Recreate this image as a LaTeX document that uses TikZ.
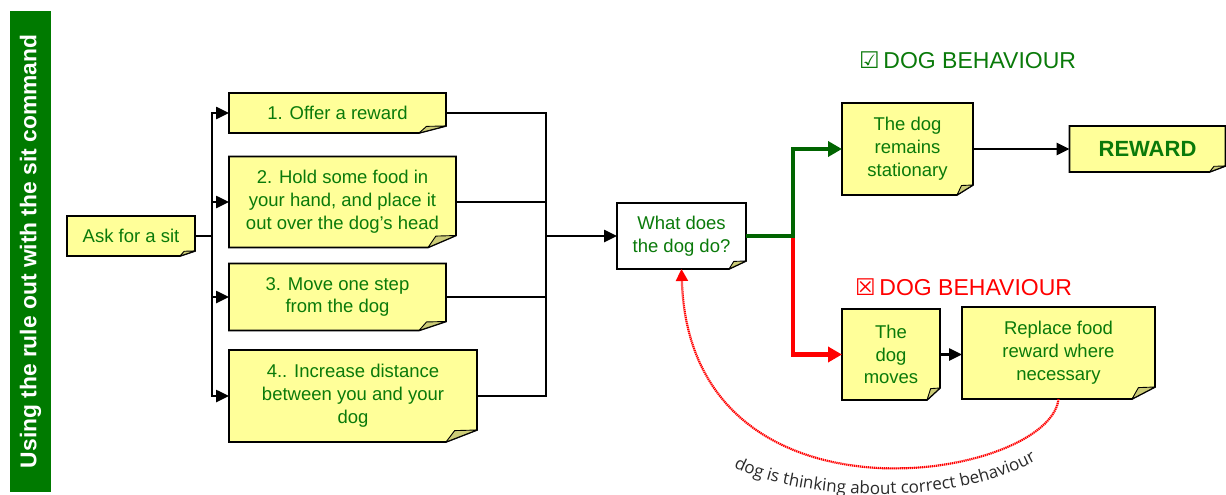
\documentclass[tikz,border=0pt]{standalone}
\usepackage{fontspec}
\setmainfont{Liberation Sans}
\newfontfamily\symfont{DejaVu Sans}
\newfontfamily\notefont{Open Sans}
\usetikzlibrary{arrows.meta,backgrounds,decorations.text}

\definecolor{notefill}{HTML}{FFFF99}
\definecolor{flapfill}{HTML}{CCCC77}
\definecolor{txtgreen}{HTML}{0A7A0A}
\definecolor{bargreen}{HTML}{007A00}
\definecolor{yesgreen}{HTML}{006400}
\definecolor{nored}{HTML}{FF0000}
\definecolor{thinkgray}{HTML}{2A2A2A}

% sticky-note outline with a folded bottom-right corner
% #1 node, #2 fold width, #3 fold height, #4 fill colour
\newcommand\notecard[4]{%
  \begin{scope}[on background layer]
    \filldraw[line width=1.6pt, fill=#4, line join=miter]
      (#1.north west) -- (#1.north east) -- ([yshift=#3pt]#1.south east)
      -- ([xshift=-#2pt]#1.south east) -- (#1.south west) -- cycle;
  \end{scope}
  \filldraw[line width=0.9pt, fill=flapfill, line join=round]
    ([xshift=-#2pt]#1.south east) -- ([xshift={-0.72*#2pt}, yshift={0.95*#3pt}]#1.south east)
    -- ([yshift=#3pt]#1.south east) -- cycle;
}

\tikzset{
  note/.style={text=txtgreen, align=center, inner sep=0pt, outer sep=0pt,
    font=\fontsize{18.5}{22.8}\selectfont},
  blackarrow/.style={line width=2.5pt, -{Triangle[length=13pt,width=12pt]}},
  plainline/.style={line width=2.5pt, line join=miter},
  yesarrow/.style={draw=yesgreen, line width=4.5pt, -{Triangle[length=14pt,width=15pt]}},
  noarrow/.style={draw=nored, line width=4.5pt, -{Triangle[length=14pt,width=15pt]}},
  header/.style={font=\fontsize{23}{23}\selectfont, inner sep=0pt},
}

\begin{document}
\begin{tikzpicture}[x=1pt, y=-1pt]
\useasboundingbox (0,0) rectangle (1226,495);

% side banner
\node[fill=bargreen, rotate=90, minimum width=481pt, minimum height=41pt,
      inner sep=0pt, text=white, font=\bfseries\fontsize{22.8}{22.8}\selectfont]
  (banner) at (30.5,251.5) {Using the rule out with the sit command};

% notes
\node[note, minimum width=128pt, minimum height=40pt] (ask) at (131,236) {Ask for a sit};
\node[note, minimum width=217pt, minimum height=40pt] (o1) at (337.5,113) {1. Offer a reward};
\node[note, minimum width=227pt, minimum height=91pt] (o2) at (342.5,202)
  {2. Hold some food in\\your hand, and place it\\out over the dog’s head};
\node[note, minimum width=217pt, minimum height=67pt] (o3) at (337.5,297)
  {3. Move one step\\from the dog};
\node[note, minimum width=248pt, minimum height=92pt] (o4) at (353,396)
  {4.. Increase distance\\between you and your\\dog};
\node[note, minimum width=129pt, minimum height=66pt] (what) at (681.5,236)
  {What does\\the dog do?};
\node[note, minimum width=131pt, minimum height=92pt] (stay) at (907.5,149)
  {The dog\\remains\\stationary};
\node[note, minimum width=156pt, minimum height=46pt,
      font=\bfseries\fontsize{22}{22}\selectfont] (reward) at (1147.5,149) {REWARD};
\node[note, minimum width=98pt, minimum height=91pt] (moves) at (891,354.5)
  {The\\dog\\moves};
\node[note, minimum width=193pt, minimum height=92pt] (replace) at (1058.5,353)
  {Replace food\\reward where\\necessary};

\notecard{ask}{15}{5}{notefill}
\notecard{o1}{27}{7}{notefill}
\notecard{o2}{28}{12}{notefill}
\notecard{o3}{27}{9}{notefill}
\notecard{o4}{31}{12}{notefill}
\notecard{what}{17}{8}{white}
\notecard{stay}{16}{10}{notefill}
\notecard{reward}{16}{6}{notefill}
\notecard{moves}{13}{12}{notefill}
\notecard{replace}{23}{12}{notefill}

% headers
\node[header, text=txtgreen] (okhead) at (967.5,60) {{\symfont ☑}\,DOG BEHAVIOUR};
\node[header, text=nored] (badhead) at (963.5,287) {{\symfont ☒}\,DOG BEHAVIOUR};

% fan-out from the first step
\coordinate (split) at (212,236);
\draw[plainline] (ask.east) -- (split);
\draw[blackarrow] (split) |- (o1.west);
\draw[blackarrow] (split) |- (o2.west);
\draw[blackarrow] (split) |- (o3.west);
\draw[blackarrow] (split) |- (o4.west);

% merge into the question
\coordinate (merge) at (546,236);
\draw[plainline] (o1.east) -| (merge);
\draw[plainline] (o2.east) -| (merge);
\draw[plainline] (o3.east) -| (merge);
\draw[plainline] (o4.east) -| (merge);
\draw[blackarrow] (merge) -- (what.west);

% outcomes
\coordinate (fork) at (793,236);
\draw[noarrow] (fork) |- (moves.west);
\draw[yesarrow] (what.east) -- (fork) |- (stay.west);
\draw[blackarrow] (stay.east) -- (stay.east -| reward.west);
\draw[blackarrow] (moves.east) -- (moves.east -| replace.west);

% feedback loop
\draw[nored, line width=2.2pt, dash pattern=on 1.3pt off 0.7pt,
      -{Triangle[length=12pt,width=12pt]}]
  (replace.south) .. controls (1050,480) and (690,540) .. (what.south);
\path[decorate, decoration={text along path, text align=center,
      text={|\notefont\fontsize{17}{17}\selectfont\color{thinkgray}|dog is thinking about correct behaviour}}]
  (735,468) .. controls (800,500) and (950,508) .. (1035,461);
\end{tikzpicture}
\end{document}
